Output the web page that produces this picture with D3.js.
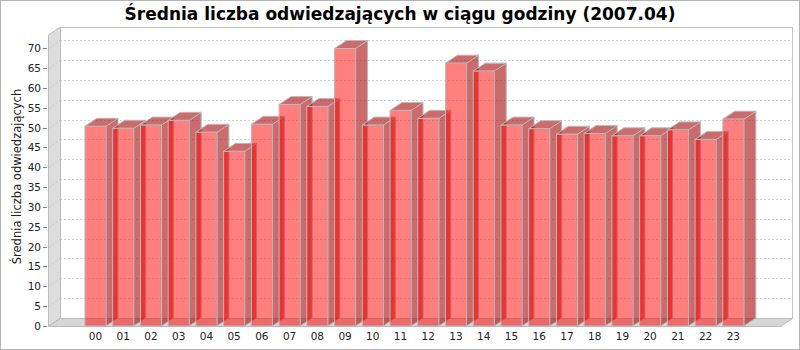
<!DOCTYPE html>
<html>
<head>
<meta charset="utf-8">
<script src="https://cdn.jsdelivr.net/npm/d3@7"></script>
<style>
  html, body { margin: 0; padding: 0; background: #fff; }
  svg { display: block; }
</style>
</head>
<body>
<svg id="chart" width="800" height="350"></svg>
<script>
const categories = ["00","01","02","03","04","05","06","07","08","09","10","11",
                    "12","13","14","15","16","17","18","19","20","21","22","23"];
const values = [50.3, 49.8, 50.6, 51.8, 48.8, 44.0, 50.8, 55.8, 55.3, 69.9, 50.6, 54.3,
                52.3, 66.2, 64.2, 50.6, 49.7, 48.3, 48.5, 47.9, 47.9, 49.4, 47.0, 52.1];
const yTicks = [0, 5, 10, 15, 20, 25, 30, 35, 40, 45, 50, 55, 60, 65, 70];
const titleText = "Średnia liczba odwiedzających w ciągu godziny (2007.04)";
const yAxisLabel = "Średnia liczba odwiedzających";

(function () {
const W = 800, H = 350;
const dx = 12, dy = 8;            // 3D depth offset
const pLeft = 48, pRight = 780;   // front plot edges
const pBottom = 326, pTop = 35;   // front plot edges

const svg = d3.select("#chart");

const x = d3.scaleBand()
  .domain(categories)
  .range([81.6, 747.2])
  .paddingInner(0.2424)
  .paddingOuter(0.1212);

const y = d3.scaleLinear().domain([0, 73.3]).range([pBottom, pTop]);

// outer border
svg.append("rect").attr("x", 0.5).attr("y", 0.5).attr("width", W - 1).attr("height", H - 1)
  .attr("fill", "#fff").attr("stroke", "#b4b4b4");

// title
svg.append("text")
  .attr("x", 400).attr("y", 19.5)
  .attr("text-anchor", "middle")
  .attr("font-family", "DejaVu Sans, sans-serif")
  .attr("font-weight", "bold")
  .attr("font-size", 17)
  .attr("fill", "#000")
  .text(titleText);

// back wall
svg.append("rect")
  .attr("x", pLeft + dx + 0.5).attr("y", pTop - dy + 0.5)
  .attr("width", pRight - pLeft).attr("height", pBottom - pTop)
  .attr("fill", "#fff").attr("stroke", "#c4c4c4");

// gridlines on back wall
const grid = svg.append("g").attr("stroke", "#d4d4d4").attr("stroke-dasharray", "2,2").attr("fill", "none");
yTicks.filter(v => v > 0).forEach(v => {
  const yy = Math.round(y(v)) + 0.5;
  grid.append("line").attr("x1", pLeft + dx).attr("x2", pRight + dx)
    .attr("y1", yy - dy).attr("y2", yy - dy);
});

// left wall
svg.append("path")
  .attr("d", `M${pLeft + 0.5},${pTop}L${pLeft + dx + 0.5},${pTop - dy}L${pLeft + dx + 0.5},${pBottom - dy}L${pLeft + 0.5},${pBottom}Z`)
  .attr("fill", "#dddddd").attr("stroke", "#bcbcbc");
const wallGrid = svg.append("g").attr("stroke", "#c8c8c8").attr("stroke-dasharray", "2,2");
yTicks.filter(v => v > 0).forEach(v => {
  const yy = Math.round(y(v)) + 0.5;
  wallGrid.append("line").attr("x1", pLeft + 1).attr("x2", pLeft + dx)
    .attr("y1", yy).attr("y2", yy - dy);
});

// floor
svg.append("path")
  .attr("d", `M${pLeft + 0.5},${pBottom + 0.5}L${pLeft + dx + 0.5},${pBottom - dy + 0.5}L${pRight + dx + 0.5},${pBottom - dy + 0.5}L${pRight + 0.5},${pBottom + 0.5}Z`)
  .attr("fill", "#d6d6d6").attr("stroke", "#bcbcbc");

// bars
const bars = svg.append("g");
const bw = x.bandwidth();
categories.forEach((c, i) => {
  const x0 = x(c), x1 = x0 + bw;
  const yt = y(values[i]), yb = y(0);
  const g = bars.append("g").attr("stroke", "#bababa").attr("stroke-width", 1);
  g.append("path")
    .attr("d", `M${x1},${yt}L${x1 + dx},${yt - dy}L${x1 + dx},${yb - dy}L${x1},${yb}Z`)
    .attr("fill", "rgba(165,0,0,0.58)");
  g.append("path")
    .attr("d", `M${x0},${yt}L${x0 + dx},${yt - dy}L${x1 + dx},${yt - dy}L${x1},${yt}Z`)
    .attr("fill", "rgba(165,0,0,0.58)");
  g.append("rect")
    .attr("x", x0).attr("y", yt).attr("width", bw).attr("height", yb - yt)
    .attr("fill", "rgba(255,0,0,0.5)");
});

// y axis ticks and labels
const yAxisG = svg.append("g").attr("font-family", "DejaVu Sans, sans-serif").attr("font-size", 10.5);
yTicks.forEach(v => {
  const yy = Math.round(y(v)) + 0.5;
  yAxisG.append("line").attr("x1", 43).attr("x2", 47).attr("y1", yy).attr("y2", yy).attr("stroke", "#888");
  yAxisG.append("text").attr("x", 41).attr("y", yy).attr("dy", "0.35em")
    .attr("text-anchor", "end").attr("fill", "#222").text(v);
});

// category labels
const xAxisG = svg.append("g").attr("font-family", "DejaVu Sans, sans-serif").attr("font-size", 10.5);
categories.forEach(c => {
  xAxisG.append("text").attr("x", x(c) + bw / 2).attr("y", 340)
    .attr("text-anchor", "middle").attr("fill", "#222").text(c);
});

// y axis label
svg.append("text")
  .attr("transform", `translate(21,${(pTop - dy + pBottom) / 2}) rotate(-90)`)
  .attr("text-anchor", "middle")
  .attr("font-family", "DejaVu Sans, sans-serif")
  .attr("font-size", 11.5)
  .attr("fill", "#222")
  .text(yAxisLabel);
})();
</script>
</body>
</html>
